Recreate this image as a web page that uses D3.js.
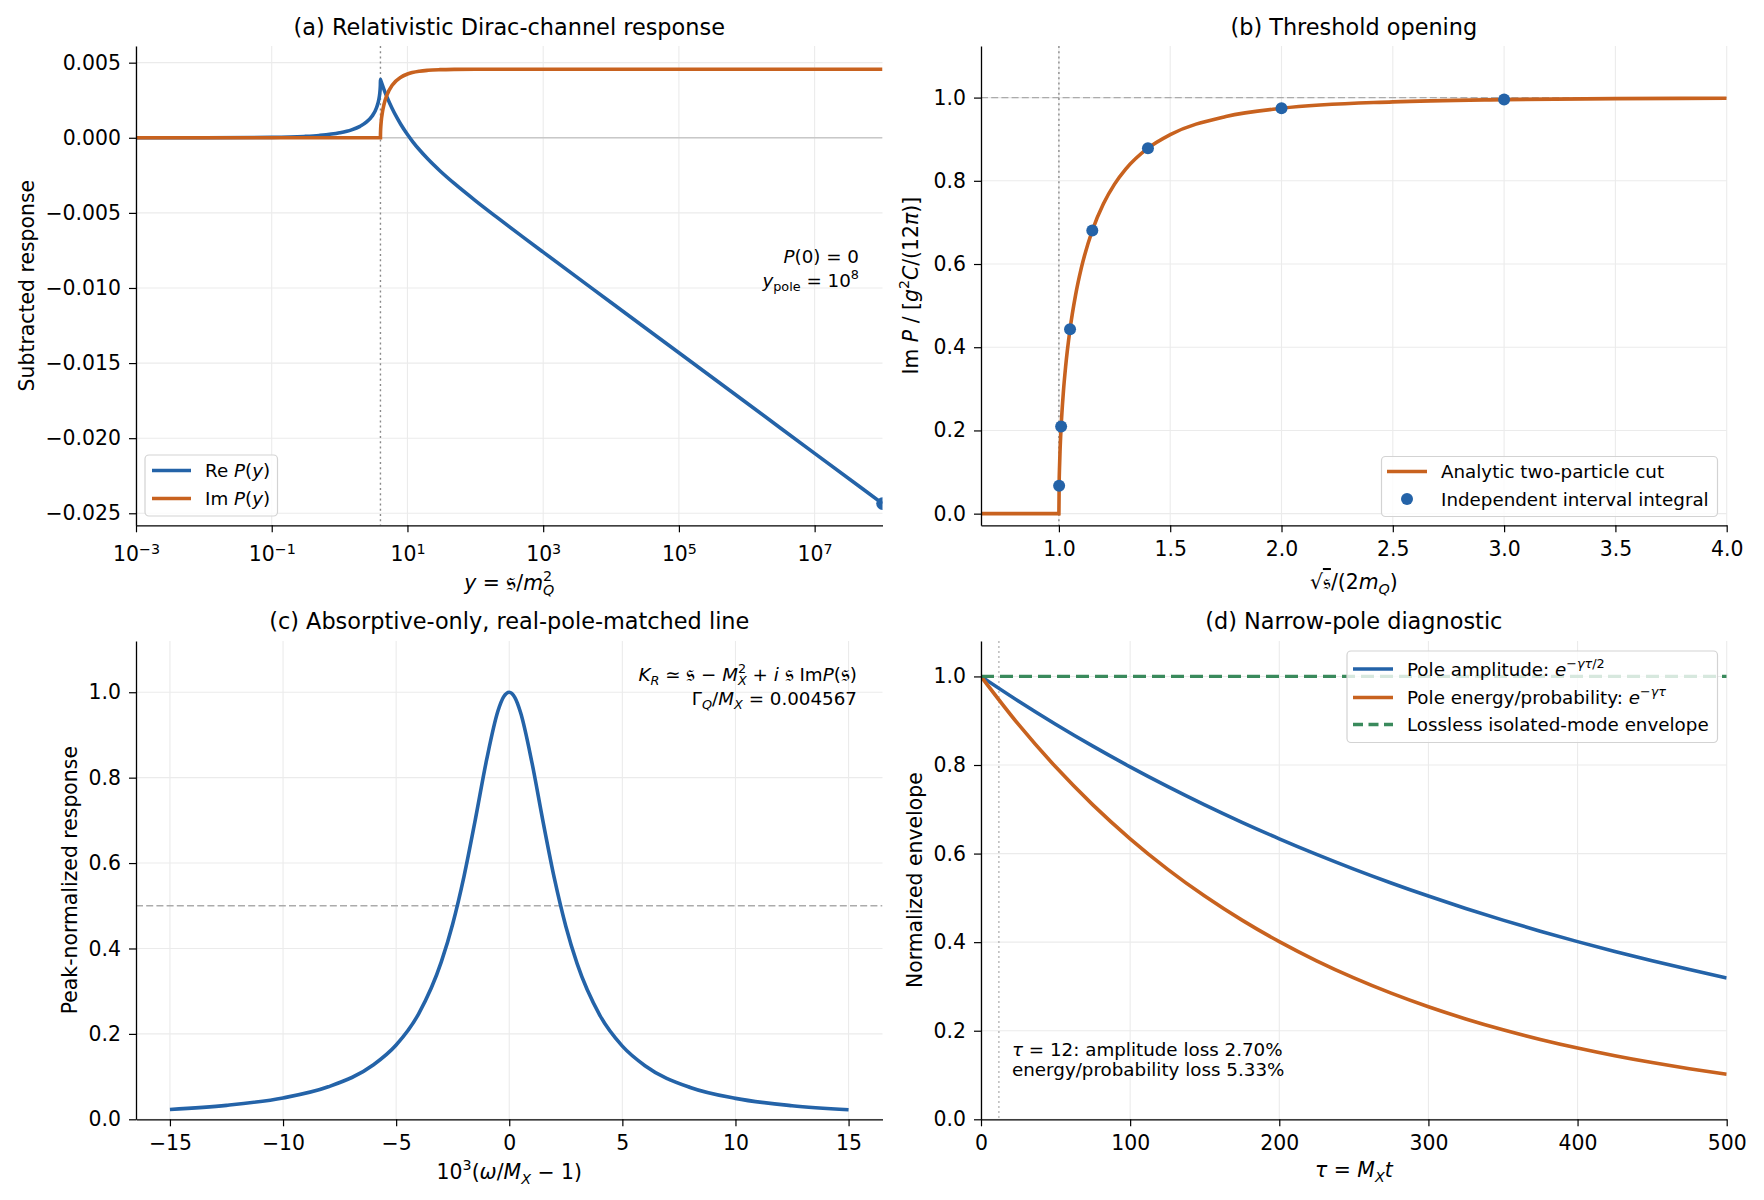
<!DOCTYPE html>
<html><head><meta charset="utf-8">
<script src="https://cdn.jsdelivr.net/npm/d3@7"></script>
<style>
html,body{margin:0;padding:0;background:#fff;}
svg text{font-family:"DejaVu Sans",sans-serif;white-space:pre;}
</style></head><body>
<svg id="chart" width="1764" height="1200"></svg>
<script>
// ---------- data ----------
// (a) subtracted response vs y = s/m_Q^2
const aReY = [0.001, 0.01, 0.1, 0.3, 0.5, 1, 1.5, 2, 2.5, 3, 3.5, 3.8, 3.9, 3.97, 3.99, 4, 4.01, 4.1, 4.5, 5, 6, 7, 8, 10, 12, 15, 20, 30, 50, 100, 200, 500, 1e3, 1e4, 1e5, 1e6, 1e7, 1e8];
const aReP = [2.91e-7, 2.91e-6, 2.925e-5, 8.91e-5, 1.537e-4, 3.275e-4, 5.274e-4, 7.633e-4, 1.0528e-3, 1.4315e-3, 1.9958e-3, 2.5835e-3, 2.9193e-3, 3.3235e-3, 3.5479e-3, 3.8766e-3, 3.8620e-3, 3.7347e-3, 3.2298e-3, 2.7098e-3, 1.9183e-3, 1.3364e-3, 8.847e-4, 2.161e-4, -2.671e-4, -7.999e-4, -1.4160e-3, -2.1917e-3, -3.0741e-3, -4.1802e-3, -5.2345e-3, -6.5937e-3, -7.6118e-3, -1.09656e-2, -1.43135e-2, -1.76608e-2, -2.10081e-2, -2.43553e-2];
const aImY = [0.001, 4, 4.001, 4.01, 4.03, 4.1, 4.3, 4.5, 5, 6, 8, 10, 15, 20, 30, 50, 100, 1e3, 1e8];
const aImP = [0, 0, 1.083e-4, 3.418e-4, 5.896e-4, 1.0611e-3, 1.7674e-3, 2.1989e-3, 2.8594e-3, 3.5157e-3, 4.0367e-3, 4.2451e-3, 4.4324e-3, 4.4933e-3, 4.5351e-3, 4.5558e-3, 4.5643e-3, 4.5670e-3, 4.5670e-3];
const aPoleY = [1e8];
const aPoleP = [-2.43553e-2];
const aThreshold = [4];
const aXTicks = [1e-3, 1e-1, 1e1, 1e3, 1e5, 1e7];
const aYTicks = [0.005, 0, -0.005, -0.01, -0.015, -0.02, -0.025];

// (b) threshold opening vs sqrt(s)/(2 m_Q)
const bX = [0.65, 1.0, 1.001, 1.003, 1.005, 1.01, 1.02, 1.03, 1.05, 1.075, 1.1, 1.15, 1.2, 1.25, 1.3, 1.4, 1.5, 1.75, 2.0, 2.5, 3.0, 3.5, 4.0];
const bY = [0, 0, 0.0670, 0.1157, 0.1490, 0.2092, 0.2918, 0.3525, 0.4432, 0.5258, 0.5888, 0.6805, 0.7447, 0.7920, 0.8280, 0.8784, 0.9110, 0.9546, 0.9743, 0.9898, 0.9952, 0.9974, 0.9985];
const bDotX = [1.001, 1.01, 1.05, 1.15, 1.4, 2.0, 3.0];
const bDotY = [0.0670, 0.2092, 0.4432, 0.6805, 0.8784, 0.9743, 0.9952];
const bThreshold = [1.0];
const bRef = [1.0];
const bXTicks = [1.0, 1.5, 2.0, 2.5, 3.0, 3.5, 4.0];
const bYTicks = [0, 0.2, 0.4, 0.6, 0.8, 1.0];

// (c) peak-normalized line shape
const cX = [-15, -12.5, -10, -8, -6, -5, -4, -3, -2.5, -2, -1.5, -1, -0.5, -0.25, 0, 0.25, 0.5, 1, 1.5, 2, 2.5, 3, 4, 5, 6, 8, 10, 12.5, 15];
const cY = [0.0230, 0.0327, 0.0501, 0.0761, 0.1276, 0.1739, 0.2475, 0.3692, 0.4575, 0.5690, 0.7018, 0.8420, 0.9561, 0.9891, 1.0, 0.9872, 0.9524, 0.8361, 0.6953, 0.5629, 0.4522, 0.3645, 0.2441, 0.1713, 0.1255, 0.0746, 0.0490, 0.0319, 0.0223];
const cHalf = [0.5];
const cXTicks = [-15, -10, -5, 0, 5, 10, 15];
const cYTicks = [0, 0.2, 0.4, 0.6, 0.8, 1.0];

// (d) envelopes vs tau
const dTau = [0, 25, 50, 75, 100, 125, 150, 175, 200, 225, 250, 275, 300, 325, 350, 375, 400, 425, 450, 475, 500];
const dAmp = [1, 0.94451, 0.89210, 0.84260, 0.79585, 0.75169, 0.70998, 0.67058, 0.63337, 0.59823, 0.56503, 0.53368, 0.50407, 0.47610, 0.44968, 0.42473, 0.40116, 0.37890, 0.35788, 0.33802, 0.31926];
const dEnergy = [1, 0.89210, 0.79584, 0.70998, 0.63338, 0.56504, 0.50407, 0.44968, 0.40116, 0.35788, 0.31926, 0.28481, 0.25409, 0.22667, 0.20221, 0.18040, 0.16093, 0.14357, 0.12808, 0.11426, 0.10193];
const dLossless = [1.0];
const dTauMark = [12];
const dXTicks = [0, 100, 200, 300, 400, 500];
const dYTicks = [0, 0.2, 0.4, 0.6, 0.8, 1.0];

// ---------- style ----------
const BLUE = "#2463a8", ORANGE = "#c8621f", GREEN = "#3a8a5c";
const FS_TICK = 20.4, FS_LAB = 20.4, FS_TITLE = 22.4, FS_LEG = 18.3;
const LW = 3.6;

const svg = d3.select("#chart");
const defs = svg.append("defs");

const A = {l:136, r:882.5, t:46, b:525.3, id:"ca"};
const B = {l:981, r:1726.7, t:46, b:525.3, id:"cb"};
const C = {l:136, r:882.5, t:641, b:1119.3, id:"cc"};
const D = {l:981, r:1726.7, t:641, b:1119.3, id:"cd"};
[A,B,C,D].forEach(p => {
  defs.append("clipPath").attr("id", p.id).append("rect")
    .attr("x", p.l).attr("y", p.t).attr("width", p.r - p.l).attr("height", p.b - p.t);
});

function rich(parent, x, y, parts, o) {
  const fs = o.size;
  const t = parent.append("text").attr("x", x).attr("y", y).attr("font-size", fs)
    .attr("text-anchor", o.anchor || "start").attr("fill", "#000");
  if (o.rotate) t.attr("transform", `rotate(-90 ${x} ${y})`);
  let cur = 0;
  parts.forEach(p => {
    const s = typeof p === "string" ? {t:p} : p;
    let off = 0, size = fs;
    if (s.sub) { off = 0.24 * fs; size = 0.7 * fs; }
    if (s.sup) { off = -0.42 * fs; size = 0.7 * fs; }
    if (s.big) size = size * s.big;
    const ts = t.append("tspan").text(s.t).attr("font-size", size);
    if (off - cur !== 0) ts.attr("dy", off - cur);
    if (s.i) ts.attr("font-style", "italic");
    if (s.dx) ts.attr("dx", s.dx * fs);
    if (s.ol) ts.attr("text-decoration", "overline");
    cur = off;
  });
  return t;
}

function frame(p, x, y, xTicks, yTicks, xFmt, yFmt) {
  const g = svg.append("g");
  g.append("g").selectAll("line").data(xTicks).join("line")
    .attr("x1", d => x(d)).attr("x2", d => x(d)).attr("y1", p.t).attr("y2", p.b)
    .attr("stroke", "#ebebeb").attr("stroke-width", 1.1);
  g.append("g").selectAll("line").data(yTicks).join("line")
    .attr("y1", d => y(d)).attr("y2", d => y(d)).attr("x1", p.l).attr("x2", p.r)
    .attr("stroke", "#ebebeb").attr("stroke-width", 1.1);
  const plot = svg.append("g").attr("clip-path", `url(#${p.id})`);
  const axes = svg.append("g");
  const xa = axes.append("g").attr("transform", `translate(0,${p.b})`)
    .call(d3.axisBottom(x).tickValues(xTicks).tickFormat(xFmt).tickSize(7).tickPadding(9).tickSizeOuter(0));
  const ya = axes.append("g").attr("transform", `translate(${p.l},0)`)
    .call(d3.axisLeft(y).tickValues(yTicks).tickFormat(yFmt).tickSize(7).tickPadding(8).tickSizeOuter(0));
  [xa, ya].forEach(a => {
    a.select(".domain").attr("stroke", "#000").attr("stroke-width", 1.3);
    a.selectAll(".tick line").attr("stroke", "#000").attr("stroke-width", 1.2);
    a.selectAll(".tick text").attr("font-size", FS_TICK).attr("fill", "#000")
      .attr("font-family", "DejaVu Sans");
  });
  return {plot, axes, xa, ya};
}

function title(p, txt, yb) {
  svg.append("text").attr("x", (p.l + p.r) / 2).attr("y", yb).attr("text-anchor", "middle")
    .attr("font-size", FS_TITLE).attr("fill", "#000").text(txt);
}

function legend(x0, y0, w, h, rows) {
  const g = svg.append("g");
  g.append("rect").attr("x", x0).attr("y", y0).attr("width", w).attr("height", h)
    .attr("rx", 4).attr("fill", "#fff").attr("fill-opacity", 0.8)
    .attr("stroke", "#d3d3d3").attr("stroke-width", 1.2);
  rows.forEach(r => {
    if (r.kind === "dot") {
      g.append("circle").attr("cx", (r.h0 + r.h1) / 2).attr("cy", r.y).attr("r", 6).attr("fill", r.color);
    } else {
      g.append("line").attr("x1", r.h0).attr("x2", r.h1).attr("y1", r.y).attr("y2", r.y)
        .attr("stroke", r.color).attr("stroke-width", LW)
        .attr("stroke-dasharray", r.kind === "dash" ? "10,5.5" : null);
    }
    rich(g, r.tx, r.y + 6.6, r.parts, {size: FS_LEG});
  });
}

const FR = "\u{1D530}";
const fr = {t: FR, big: 1.25};
const sub = (t, i) => ({t, sub:1, i:i?1:0});

// ================= (a) =================
{
  const x = d3.scaleLog().domain([1e-3, 1e8]).range([A.l, A.r]);
  const y = d3.scaleLinear().domain([-0.0258, 0.00611]).range([A.b, A.t]);
  const f = frame(A, x, y, aXTicks, aYTicks, () => "", d3.format(".3f"));
  f.xa.selectAll(".tick text").each(function(d) {
    const e = Math.round(Math.log10(d));
    const t = d3.select(this);
    t.text(null).attr("dy", "0.95em");
    t.append("tspan").text("10");
    t.append("tspan").attr("dy", "-0.45em").attr("font-size", FS_TICK * 0.7)
      .text(e < 0 ? "\u2212" + (-e) : String(e));
  });
  f.plot.append("line").attr("x1", A.l).attr("x2", A.r).attr("y1", y(0)).attr("y2", y(0))
    .attr("stroke", "#c8c8c8").attr("stroke-width", 1.3);
  f.plot.selectAll("line.thr").data(aThreshold).join("line")
    .attr("x1", d => x(d)).attr("x2", d => x(d)).attr("y1", A.t).attr("y2", A.b)
    .attr("stroke", "#8a8a8a").attr("stroke-width", 1.4).attr("stroke-dasharray", "2,3.2");
  const line = d3.line().x(d => x(d[0])).y(d => y(d[1])).curve(d3.curveMonotoneX);
  f.plot.append("path").datum(aReY.map((v, i) => [v, aReP[i]])).attr("d", line)
    .attr("fill", "none").attr("stroke", BLUE).attr("stroke-width", LW);
  f.plot.append("path").datum(aImY.map((v, i) => [v, aImP[i]])).attr("d", line)
    .attr("fill", "none").attr("stroke", ORANGE).attr("stroke-width", LW);
  f.plot.selectAll("circle").data(aPoleY.map((v, i) => [v, aPoleP[i]])).join("circle")
    .attr("cx", d => x(d[0])).attr("cy", d => y(d[1])).attr("r", 6.3).attr("fill", BLUE);
  title(A, "(a) Relativistic Dirac-channel response", 35);
  rich(svg, (A.l + A.r) / 2, 590, [{t:"y", i:1}, " = ", fr, "/", {t:"m", i:1}, {t:"2", sup:1}, {t:"Q", i:1, sub:1, dx:-0.445}], {size: FS_LAB, anchor:"middle"});
  rich(svg, 34, (A.t + A.b) / 2, ["Subtracted response"], {size: FS_LAB, anchor:"middle", rotate:1});
  rich(svg, 859, 263, [{t:"P", i:1}, "(0) = 0"], {size: FS_LEG, anchor:"end"});
  rich(svg, 859, 287, [{t:"y", i:1}, sub("pole"), " = 10", {t:"8", sup:1}], {size: FS_LEG, anchor:"end"});
  legend(145, 455, 132.5, 61, [
    {kind:"line", color:BLUE, y:470.5, h0:152, h1:191, tx:205, parts:["Re ", {t:"P", i:1}, "(", {t:"y", i:1}, ")"]},
    {kind:"line", color:ORANGE, y:498.5, h0:152, h1:191, tx:205, parts:["Im ", {t:"P", i:1}, "(", {t:"y", i:1}, ")"]}
  ]);
}

// ================= (b) =================
{
  const x = d3.scaleLinear().domain([0.65, 4.0]).range([B.l, B.r]);
  const y = d3.scaleLinear().domain([-0.028, 1.124]).range([B.b, B.t]);
  const f = frame(B, x, y, bXTicks, bYTicks, d3.format(".1f"), d3.format(".1f"));
  f.plot.selectAll("line.ref").data(bRef).join("line")
    .attr("x1", B.l).attr("x2", B.r).attr("y1", d => y(d)).attr("y2", d => y(d))
    .attr("stroke", "#ababab").attr("stroke-width", 1.3).attr("stroke-dasharray", "7,3.2");
  f.plot.selectAll("line.thr").data(bThreshold).join("line")
    .attr("x1", d => x(d)).attr("x2", d => x(d)).attr("y1", B.t).attr("y2", B.b)
    .attr("stroke", "#8a8a8a").attr("stroke-width", 1.4).attr("stroke-dasharray", "2,3.2");
  const line = d3.line().x(d => x(d[0])).y(d => y(d[1])).curve(d3.curveMonotoneX);
  f.plot.append("path").datum(bX.map((v, i) => [v, bY[i]])).attr("d", line)
    .attr("fill", "none").attr("stroke", ORANGE).attr("stroke-width", LW);
  f.plot.selectAll("circle").data(bDotX.map((v, i) => [v, bDotY[i]])).join("circle")
    .attr("cx", d => x(d[0])).attr("cy", d => y(d[1])).attr("r", 6).attr("fill", BLUE);
  title(B, "(b) Threshold opening", 35);
  rich(svg, (B.l + B.r) / 2, 589, ["\u221A", {t:FR, ol:1}, "/(2", {t:"m", i:1}, sub("Q", 1), ")"], {size: FS_LAB, anchor:"middle"});
  rich(svg, 918, (B.t + B.b) / 2, ["Im ", {t:"P", i:1}, " / [", {t:"g", i:1}, {t:"2", sup:1}, {t:"C", i:1}, "/(12", {t:"\u03C0", i:1}, ")]"], {size: FS_LAB, anchor:"middle", rotate:1});
  legend(1381.5, 456.5, 336, 60, [
    {kind:"line", color:ORANGE, y:471.5, h0:1387, h1:1427, tx:1441, parts:["Analytic two-particle cut"]},
    {kind:"dot", color:BLUE, y:499, h0:1387, h1:1427, tx:1441, parts:["Independent interval integral"]}
  ]);
}

// ================= (c) =================
{
  const x = d3.scaleLinear().domain([-16.5, 16.5]).range([C.l, C.r]);
  const y = d3.scaleLinear().domain([0, 1.12]).range([C.b, C.t]);
  const f = frame(C, x, y, cXTicks, cYTicks, d3.format("d"), d3.format(".1f"));
  f.plot.selectAll("line.half").data(cHalf).join("line")
    .attr("x1", C.l).attr("x2", C.r).attr("y1", d => y(d)).attr("y2", d => y(d))
    .attr("stroke", "#ababab").attr("stroke-width", 1.3).attr("stroke-dasharray", "7,3.2");
  const line = d3.line().x(d => x(d[0])).y(d => y(d[1])).curve(d3.curveMonotoneX);
  f.plot.append("path").datum(cX.map((v, i) => [v, cY[i]])).attr("d", line)
    .attr("fill", "none").attr("stroke", BLUE).attr("stroke-width", LW);
  title(C, "(c) Absorptive-only, real-pole-matched line", 629);
  rich(svg, (C.l + C.r) / 2, 1179, ["10", {t:"3", sup:1}, "(", {t:"\u03C9", i:1}, "/", {t:"M", i:1}, sub("X", 1), " \u2212 1)"], {size: FS_LAB, anchor:"middle"});
  rich(svg, 77, (C.t + C.b) / 2, ["Peak-normalized response"], {size: FS_LAB, anchor:"middle", rotate:1});
  rich(svg, 857, 681, [{t:"K", i:1}, sub("R", 1), " \u2243 ", fr, " \u2212 ", {t:"M", i:1}, {t:"2", sup:1}, {t:"X", i:1, sub:1, dx:-0.445}, " + ", {t:"i", i:1}, " ", fr, " Im", {t:"P", i:1}, "(", fr, ")"], {size: FS_LEG, anchor:"end"});
  rich(svg, 857, 705, ["\u0393", sub("Q", 1), "/", {t:"M", i:1}, sub("X", 1), " = 0.004567"], {size: FS_LEG, anchor:"end"});
}

// ================= (d) =================
{
  const x = d3.scaleLinear().domain([0, 500]).range([D.l, D.r]);
  const y = d3.scaleLinear().domain([0, 1.08]).range([D.b, D.t]);
  const f = frame(D, x, y, dXTicks, dYTicks, d3.format("d"), d3.format(".1f"));
  f.plot.selectAll("line.mark").data(dTauMark).join("line")
    .attr("x1", d => x(d)).attr("x2", d => x(d)).attr("y1", D.t).attr("y2", D.b)
    .attr("stroke", "#aaaaaa").attr("stroke-width", 1.2).attr("stroke-dasharray", "2,3");
  const line = d3.line().x(d => x(d[0])).y(d => y(d[1])).curve(d3.curveMonotoneX);
  f.plot.append("path").datum(dTau.map((v, i) => [v, dAmp[i]])).attr("d", line)
    .attr("fill", "none").attr("stroke", BLUE).attr("stroke-width", LW);
  f.plot.append("path").datum(dTau.map((v, i) => [v, dEnergy[i]])).attr("d", line)
    .attr("fill", "none").attr("stroke", ORANGE).attr("stroke-width", LW);
  f.plot.selectAll("line.loss").data(dLossless).join("line")
    .attr("x1", D.l).attr("x2", D.r).attr("y1", d => y(d)).attr("y2", d => y(d))
    .attr("stroke", GREEN).attr("stroke-width", 3.3).attr("stroke-dasharray", "13,6");
  title(D, "(d) Narrow-pole diagnostic", 629);
  rich(svg, (D.l + D.r) / 2, 1177, [{t:"\u03C4", i:1}, " = ", {t:"M", i:1}, sub("X", 1), {t:"t", i:1}], {size: FS_LAB, anchor:"middle"});
  rich(svg, 922, (D.t + D.b) / 2, ["Normalized envelope"], {size: FS_LAB, anchor:"middle", rotate:1});
  rich(svg, 1012, 1056, [{t:"\u03C4", i:1}, " = 12: amplitude loss 2.70%"], {size: FS_LEG});
  rich(svg, 1012, 1076, ["energy/probability loss 5.33%"], {size: FS_LEG});
  legend(1347, 651, 370.5, 91.5, [
    {kind:"line", color:BLUE, y:669, h0:1353, h1:1393, tx:1407, parts:["Pole amplitude: ", {t:"e", i:1}, {t:"\u2212", sup:1}, {t:"\u03B3\u03C4", i:1, sup:1}, {t:"/2", sup:1}]},
    {kind:"line", color:ORANGE, y:697.5, h0:1353, h1:1393, tx:1407, parts:["Pole energy/probability: ", {t:"e", i:1}, {t:"\u2212", sup:1}, {t:"\u03B3\u03C4", i:1, sup:1}]},
    {kind:"dash", color:GREEN, y:724.5, h0:1353, h1:1393, tx:1407, parts:["Lossless isolated-mode envelope"]}
  ]);
}
</script>
</body></html>
